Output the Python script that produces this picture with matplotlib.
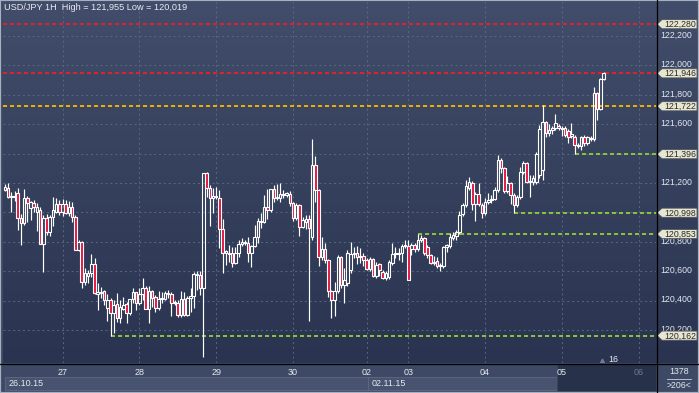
import numpy as np
import matplotlib.pyplot as plt
import matplotlib.transforms as mtransforms
from matplotlib.colors import LinearSegmentedColormap
from matplotlib.patches import Rectangle, Polygon
from matplotlib.lines import Line2D

plt.rcParams['font.family'] = ['Liberation Sans', 'DejaVu Sans']

# USD/JPY 1H candles, 26.10.15 - 05.11.15
opens = [
    121.153, 121.166, 121.105, 121.112, 121.132, 120.962, 120.928, 121.098, 121.030, 121.064,
    121.003, 121.016, 120.785, 120.962, 120.867, 120.969, 121.003, 121.057, 121.003, 121.057,
    120.996, 121.037, 120.969, 120.744, 120.799, 120.527, 120.567, 120.588, 120.649, 120.445,
    120.452, 120.465, 120.350, 120.404, 120.316, 120.377, 120.282, 120.343, 120.377, 120.316,
    120.411, 120.459, 120.384, 120.445, 120.486, 120.343, 120.465, 120.425, 120.350, 120.411,
    120.411, 120.445, 120.445, 120.391, 120.384, 120.302, 120.411, 120.302, 120.418, 120.431,
    120.574, 120.574, 120.486, 121.268, 121.166, 121.098, 121.105, 121.098, 120.887, 120.724,
    120.717, 120.724, 120.656, 120.724, 120.785, 120.792, 120.792, 120.724, 120.772, 120.833,
    120.935, 120.935, 121.037, 121.016, 121.159, 121.098, 121.098, 121.118, 121.118, 121.125,
    121.064, 120.962, 121.050, 120.901, 120.935, 120.955, 120.833, 121.323, 121.153, 120.697,
    120.751, 120.676, 120.465, 120.404, 120.465, 120.697, 120.506, 120.520, 120.608, 120.717,
    120.724, 120.697, 120.704, 120.676, 120.615, 120.683, 120.567, 120.649, 120.595, 120.554,
    120.561, 120.656, 120.717, 120.717, 120.724, 120.772, 120.772, 120.751, 120.778, 120.751,
    120.812, 120.826, 120.765, 120.710, 120.656, 120.670, 120.636, 120.636, 120.765, 120.772,
    120.826, 120.840, 120.867, 120.989, 121.050, 121.166, 121.200, 121.057, 121.125, 121.050,
    120.996, 121.071, 121.084, 121.091, 121.153, 121.357, 121.302, 121.146, 121.200, 121.118,
    121.050, 121.105, 121.275, 121.336, 121.214, 121.207, 121.207, 121.255, 121.288, 121.615,
    121.540, 121.561, 121.574, 121.588, 121.574, 121.574, 121.554, 121.520, 121.513, 121.459,
    121.452, 121.513, 121.472, 121.499, 121.499, 121.812, 121.704, 121.908,
]
highs = [
    121.193, 121.200, 121.139, 121.146, 121.166, 120.989, 121.159, 121.112, 121.078, 121.084,
    121.064, 121.037, 120.982, 120.989, 120.982, 121.105, 121.098, 121.084, 121.091, 121.084,
    121.078, 121.071, 120.982, 120.812, 120.806, 120.622, 120.608, 120.717, 120.690, 120.520,
    120.493, 120.472, 120.445, 120.418, 120.404, 120.452, 120.404, 120.425, 120.391, 120.411,
    120.486, 120.459, 120.486, 120.554, 120.499, 120.499, 120.472, 120.438, 120.465, 120.459,
    120.465, 120.472, 120.459, 120.404, 120.404, 120.465, 120.459, 120.431, 120.486, 120.595,
    120.602, 120.602, 121.270, 121.275, 121.187, 121.166, 121.173, 121.153, 120.955, 120.744,
    120.778, 120.765, 120.765, 120.812, 120.826, 120.812, 120.833, 120.778, 120.914, 120.962,
    120.996, 121.118, 121.159, 121.159, 121.187, 121.193, 121.200, 121.153, 121.139, 121.146,
    121.071, 121.064, 121.057, 120.969, 120.982, 120.982, 121.499, 121.384, 121.159, 120.833,
    120.792, 120.683, 120.472, 120.527, 120.710, 120.704, 120.622, 120.744, 120.799, 120.765,
    120.772, 120.758, 120.724, 120.690, 120.697, 120.690, 120.663, 120.656, 120.608, 120.602,
    120.676, 120.792, 120.765, 120.758, 120.785, 120.812, 120.812, 120.792, 120.792, 120.853,
    120.846, 120.833, 120.778, 120.717, 120.704, 120.697, 120.656, 120.772, 120.785, 120.860,
    120.867, 120.880, 121.010, 121.064, 121.221, 121.241, 121.214, 121.139, 121.200, 121.064,
    121.098, 121.132, 121.118, 121.173, 121.391, 121.370, 121.309, 121.248, 121.207, 121.132,
    121.118, 121.309, 121.350, 121.343, 121.255, 121.255, 121.411, 121.595, 121.731, 121.622,
    121.602, 121.588, 121.670, 121.602, 121.588, 121.588, 121.567, 121.608, 121.527, 121.472,
    121.520, 121.527, 121.520, 121.520, 121.853, 121.819, 121.914, 121.955,
]
lows = [
    121.146, 121.098, 121.003, 121.078, 120.880, 120.778, 120.914, 120.935, 120.948, 121.003,
    120.874, 120.785, 120.595, 120.846, 120.840, 120.908, 120.996, 120.982, 120.976, 120.989,
    120.976, 120.935, 120.744, 120.738, 120.486, 120.506, 120.520, 120.561, 120.445, 120.336,
    120.418, 120.370, 120.261, 120.162, 120.180, 120.255, 120.248, 120.336, 120.248, 120.302,
    120.384, 120.336, 120.370, 120.404, 120.343, 120.248, 120.357, 120.323, 120.336, 120.384,
    120.404, 120.418, 120.295, 120.370, 120.289, 120.289, 120.295, 120.295, 120.323, 120.350,
    120.472, 120.438, 120.019, 121.105, 120.908, 120.996, 121.091, 120.758, 120.588, 120.642,
    120.663, 120.629, 120.649, 120.697, 120.772, 120.778, 120.663, 120.629, 120.765, 120.792,
    120.894, 120.928, 120.955, 121.003, 121.071, 121.084, 121.071, 121.098, 121.105, 121.044,
    120.942, 120.948, 120.840, 120.894, 120.887, 120.261, 120.812, 121.071, 120.636, 120.676,
    120.656, 120.425, 120.282, 120.295, 120.452, 120.486, 120.384, 120.499, 120.588, 120.690,
    120.649, 120.656, 120.636, 120.608, 120.602, 120.561, 120.554, 120.567, 120.547, 120.540,
    120.547, 120.642, 120.690, 120.676, 120.663, 120.758, 120.540, 120.710, 120.731, 120.738,
    120.799, 120.710, 120.690, 120.649, 120.642, 120.622, 120.602, 120.622, 120.731, 120.758,
    120.812, 120.812, 120.853, 120.976, 121.037, 121.153, 121.016, 120.942, 121.044, 120.962,
    120.982, 121.057, 121.064, 121.084, 121.139, 121.268, 121.132, 121.132, 121.057, 120.998,
    121.037, 121.091, 121.261, 121.200, 121.105, 121.187, 121.193, 121.234, 121.221, 121.513,
    121.520, 121.533, 121.561, 121.561, 121.520, 121.513, 121.472, 121.506, 121.396, 121.438,
    121.425, 121.452, 121.459, 121.486, 121.486, 121.629, 121.697, 121.901,
]
closes = [
    121.173, 121.105, 121.112, 121.105, 120.962, 120.928, 121.098, 121.064, 121.071, 121.037,
    121.037, 120.785, 120.962, 120.867, 120.969, 121.016, 121.057, 121.003, 121.057, 120.996,
    121.037, 120.969, 120.744, 120.799, 120.527, 120.588, 120.588, 120.649, 120.452, 120.459,
    120.459, 120.404, 120.404, 120.316, 120.370, 120.282, 120.357, 120.370, 120.316, 120.411,
    120.459, 120.384, 120.445, 120.486, 120.343, 120.465, 120.418, 120.350, 120.411, 120.418,
    120.452, 120.452, 120.384, 120.384, 120.302, 120.411, 120.302, 120.418, 120.431, 120.581,
    120.581, 120.486, 121.270, 121.166, 121.098, 121.112, 121.112, 120.887, 120.724, 120.738,
    120.724, 120.656, 120.724, 120.785, 120.799, 120.799, 120.724, 120.772, 120.833, 120.942,
    120.942, 121.037, 121.016, 121.159, 121.098, 121.105, 121.125, 121.125, 121.132, 121.064,
    120.962, 121.050, 120.901, 120.948, 120.955, 120.894, 121.323, 121.153, 120.697, 120.751,
    120.676, 120.465, 120.404, 120.465, 120.697, 120.506, 120.540, 120.724, 120.717, 120.724,
    120.697, 120.704, 120.676, 120.615, 120.683, 120.567, 120.642, 120.608, 120.554, 120.588,
    120.663, 120.717, 120.724, 120.724, 120.772, 120.778, 120.540, 120.778, 120.751, 120.812,
    120.826, 120.724, 120.710, 120.656, 120.663, 120.636, 120.642, 120.765, 120.778, 120.833,
    120.846, 120.867, 120.982, 121.050, 121.180, 121.207, 121.057, 121.125, 121.057, 120.996,
    121.071, 121.084, 121.091, 121.153, 121.357, 121.302, 121.146, 121.200, 121.118, 121.050,
    121.105, 121.275, 121.336, 121.207, 121.207, 121.234, 121.397, 121.567, 121.615, 121.540,
    121.561, 121.574, 121.608, 121.574, 121.567, 121.527, 121.513, 121.533, 121.459, 121.452,
    121.513, 121.472, 121.513, 121.506, 121.812, 121.704, 121.908, 121.948,
]

# level lines: price, first candle it starts from (None = full width), colour
levels = [122.280, 121.946, 121.722, 121.396, 120.998, 120.853, 120.162]
level_start = [None, None, None, 178, 159, 129, 33]
level_colors = ['#e4202c', '#e4202c', '#efb000', '#8cc43c', '#8cc43c', '#8cc43c', '#8cc43c']

price_ticks = [122.2, 122.0, 121.8, 121.6, 121.4, 121.2, 121.0, 120.8, 120.6, 120.4, 120.2]
day_pos = [18, 42, 66, 90, 113, 126, 150, 174, 198]
day_labels = ['27', '28', '29', '30', '02', '03', '04', '05', '06']
title = 'USD/JPY 1H  High = 121,955 Low = 120,019'

W, H = 699, 393
fig = plt.figure(figsize=(W / 100, H / 100), dpi=100)
fig.patch.set_facecolor('#3c4864')


def fbox(x0, y0, x1, y1):
    # pixel box, origin top-left -> figure fraction rect
    return [x0 / W, 1 - y1 / H, (x1 - x0) / W, (y1 - y0) / H]


ymin, ymax = 119.976, 122.431
x_lo, x_hi = -0.6, 203.4
grad = np.linspace(0, 1, 256).reshape(-1, 1)
bg_cmap = LinearSegmentedColormap.from_list('bg', ['#414d6a', '#2a3450'])

# ---- main price panel
ax = fig.add_axes(fbox(3, 2, 656, 363))
ax.imshow(grad, aspect='auto', cmap=bg_cmap, extent=(x_lo, x_hi, ymin, ymax),
          origin='upper', zorder=0)
ax.set_xlim(x_lo, x_hi)
ax.set_ylim(ymin, ymax)
ax.set_axis_off()

for p in price_ticks:
    ax.axhline(p, color='#5a6682', lw=0.7, ls=(0, (2, 3)), zorder=1)
for d in day_pos:
    ax.axvline(d, color='#5a6682', lw=0.7, ls=(0, (2, 3)), zorder=1)

for lv, st, col in zip(levels, level_start, level_colors):
    x0 = x_lo if st is None else st
    ax.plot([x0, x_hi], [lv, lv], color=col, lw=1.4, ls=(0, (2.1, 1.5)),
            solid_capstyle='butt', zorder=2)

o = np.array(opens)
h = np.array(highs)
l = np.array(lows)
c = np.array(closes)
idx = np.arange(len(c))
up = c >= o
top = np.maximum(o, c)
bot = np.minimum(o, c)
ax.vlines(idx, top, np.maximum(h, top), color='white', lw=0.85, zorder=3)
ax.vlines(idx, np.minimum(l, bot), bot, color='white', lw=0.85, zorder=3)
body = np.maximum(top - bot, 0.004)
ax.bar(idx[up], body[up], bottom=bot[up], width=0.8, facecolor='none',
       edgecolor='white', linewidth=0.8, zorder=4)
ax.bar(idx[~up], body[~up], bottom=bot[~up], width=0.8, facecolor='#e3163e',
       edgecolor='white', linewidth=0.8, zorder=4)

ax.plot(len(c) - 1.5, 119.987, marker='^', ms=3.5, color='#6f7a92', zorder=5, clip_on=False)
ax.text(len(c) + 0.5, 119.997, '16', color='#e8ecf2', fontsize=6.3, va='center', ha='left')

fig.text(4 / W, 1 - 8 / H, title, color='#e8ebf0', fontsize=6.6, va='center', ha='left')

# ---- right price scale
ax_r = fig.add_axes(fbox(656, 2, 699, 363))
ax_r.imshow(grad, aspect='auto', cmap=bg_cmap, extent=(656, 699, ymin, ymax),
            origin='upper', zorder=0)
ax_r.set_xlim(656, 699)
ax_r.set_ylim(ymin, ymax)
ax_r.set_axis_off()
for p in price_ticks:
    # labels fully covered by a level tag are not visible in the original
    if min(abs(p - lv) for lv in levels) < 0.01:
        continue
    ax_r.text(660, p + 0.006, f'{p:.3f}'.replace('.', ','), color='#e2e7f0',
              fontsize=6.3, va='center', ha='left', zorder=1)
hh = 0.031
for lv in levels:
    tag = Polygon([(657, lv), (662, lv + hh), (697, lv + hh), (697, lv - hh), (662, lv - hh)],
                  closed=True, facecolor='#e7e6d1', edgecolor='#50545c', lw=0.6, zorder=3)
    ax_r.add_patch(tag)
    ax_r.text(680, lv - 0.002, f'{lv:.3f}'.replace('.', ','), color='#2a2a2a',
              fontsize=6.3, va='center', ha='center', zorder=4)

# ---- bottom time scale
ax_b = fig.add_axes([0, 0, 1, 30 / H])
ax_b.set_xlim(0, W)
ax_b.set_ylim(393, 363)
ax_b.set_axis_off()
ax_b.add_patch(Rectangle((0, 363), W, 30, facecolor='#3d4965', zorder=0))
ax_b.add_patch(Rectangle((5, 377), 363, 13, facecolor='#47536f', edgecolor='#5e6a85', lw=0.6, zorder=1))
ax_b.add_patch(Rectangle((368, 377), 189, 13, facecolor='#47536f', edgecolor='#5e6a85', lw=0.6, zorder=1))
ax_b.add_patch(Rectangle((557, 364), 99, 27, facecolor='#27314a', edgecolor='#3a4560', lw=0.6, zorder=2))
ax_b.text(9, 383.5, '26.10.15', color='#e6e9ef', fontsize=6.5, va='center', ha='left', zorder=3)
ax_b.text(372, 383.5, '02.11.15', color='#e6e9ef', fontsize=6.5, va='center', ha='left', zorder=3)

tb = mtransforms.blended_transform_factory(ax.transData, ax_b.transData)
for d, lab in zip(day_pos, day_labels):
    col = '#6c7896' if d > len(c) else '#e6e9ef'
    ax_b.text(d, 372.5, lab, transform=tb, color=col, fontsize=6.5, va='center',
              ha='center', zorder=3)

ax_b.text(679, 371.5, '1378', color='#e6e9ef', fontsize=6.3, va='center', ha='center')
ax_b.plot([667, 691], [378.5, 378.5], color='#cdd3dd', lw=0.6)
ax_b.text(679, 385.5, '>206<', color='#e6e9ef', fontsize=6.3, va='center', ha='center')

# separators and window frame
fig.add_artist(Line2D([656.5 / W, 656.5 / W], [0, 1], color='black', lw=0.9))
fig.add_artist(Line2D([0, 1], [1 - 363.5 / H, 1 - 363.5 / H], color='black', lw=0.9))
fig.add_artist(Rectangle((0, 0), 1, 1, transform=fig.transFigure, fill=False,
                         edgecolor='#a7b0bf', lw=1.6))

fig.savefig('out.png', dpi=100)
